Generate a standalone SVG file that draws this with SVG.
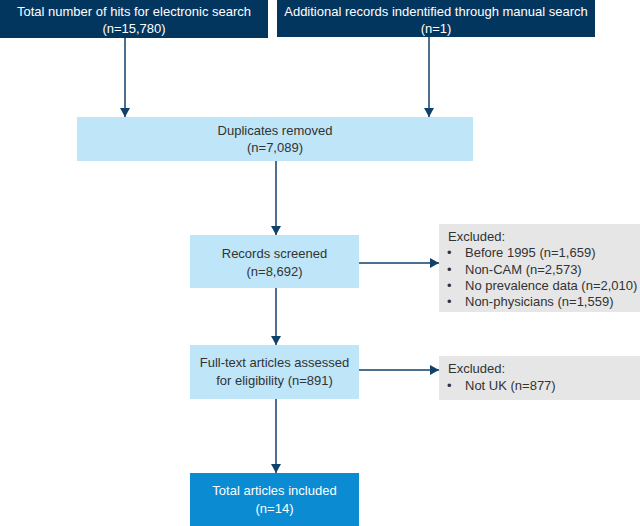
<svg xmlns="http://www.w3.org/2000/svg" width="640" height="526" viewBox="0 0 640 526">
  <style>
    .t { font-family: "Liberation Sans", Arial, sans-serif; font-size: 13px; }
    .c { text-anchor: middle; }
    .w { fill: #ffffff; }
    .d { fill: #333333; }
    .dark { fill: #03365f; }
    .light { fill: #bee5f8; }
    .grey { fill: #e6e6e6; }
    .final { fill: #0a8bd2; }
    .arr { stroke: #10416b; stroke-width: 1.5; fill: none; marker-end: url(#ah); }
  </style>
  <defs>
    <marker id="ah" markerUnits="userSpaceOnUse" markerWidth="9" markerHeight="10" refX="9" refY="5" orient="auto">
      <path d="M0,0 L9,5 L0,10 z" fill="#10416b"/>
    </marker>
  </defs>
  <rect width="640" height="526" fill="#ffffff"/>

  <g id="connectors">
    <line class="arr" x1="125" y1="38" x2="125" y2="117"/>
    <line class="arr" x1="429" y1="37" x2="429" y2="117"/>
    <line class="arr" x1="276" y1="161" x2="276" y2="235"/>
    <line class="arr" x1="359" y1="263" x2="439" y2="263"/>
    <line class="arr" x1="276" y1="288" x2="276" y2="345"/>
    <line class="arr" x1="359" y1="370" x2="439" y2="370"/>
    <line class="arr" x1="276" y1="399" x2="276" y2="473"/>
  </g>

  <g id="electronic">
    <rect class="dark" x="0" y="0" width="268" height="38"/>
    <text class="t c w" x="134" y="16">Total number of hits for electronic search</text>
    <text class="t c w" x="134" y="33">(n=15,780)</text>
  </g>

  <g id="manual">
    <rect class="dark" x="277" y="0" width="318" height="37"/>
    <text class="t c w" x="436" y="16">Additional records indentified through manual search</text>
    <text class="t c w" x="436" y="33">(n=1)</text>
  </g>

  <g id="duplicates">
    <rect class="light" x="77" y="117" width="396" height="44"/>
    <text class="t c d" x="275" y="135">Duplicates removed</text>
    <text class="t c d" x="275" y="152">(n=7,089)</text>
  </g>

  <g id="screened">
    <rect class="light" x="190" y="235" width="169" height="53"/>
    <text class="t c d" x="274.5" y="258">Records screened</text>
    <text class="t c d" x="274.5" y="276">(n=8,692)</text>
  </g>

  <g id="excluded1">
    <rect class="grey" x="439" y="224" width="201" height="88"/>
    <text class="t d" x="448" y="241">Excluded:</text>
    <text class="t d" x="447" y="257">•</text><text class="t d" x="465" y="257">Before 1995 (n=1,659)</text>
    <text class="t d" x="447" y="273.5">•</text><text class="t d" x="465" y="273.5">Non-CAM (n=2,573)</text>
    <text class="t d" x="447" y="290">•</text><text class="t d" x="465" y="290">No prevalence data (n=2,010)</text>
    <text class="t d" x="447" y="306">•</text><text class="t d" x="465" y="306">Non-physicians (n=1,559)</text>
  </g>

  <g id="fulltext">
    <rect class="light" x="190" y="345" width="169" height="54"/>
    <text class="t c d" x="274.5" y="367">Full-text articles assessed</text>
    <text class="t c d" x="274.5" y="385">for eligibility (n=891)</text>
  </g>

  <g id="excluded2">
    <rect class="grey" x="439" y="356" width="201" height="44"/>
    <text class="t d" x="448" y="373">Excluded:</text>
    <text class="t d" x="447" y="390">•</text><text class="t d" x="465" y="390">Not UK (n=877)</text>
  </g>

  <g id="included">
    <rect class="final" x="190" y="473" width="169" height="53"/>
    <text class="t c w" x="274.5" y="495">Total articles included</text>
    <text class="t c w" x="274.5" y="513">(n=14)</text>
  </g>
</svg>
